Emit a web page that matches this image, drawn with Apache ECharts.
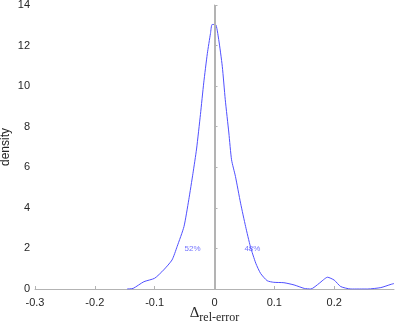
<!DOCTYPE html>
<html>
<head>
<meta charset="utf-8">
<script src="https://cdn.jsdelivr.net/npm/echarts@6/dist/echarts.min.js"></script>
<style>
  html, body { margin: 0; padding: 0; background: #fff; }
  #main { width: 395px; height: 327px; }
</style>
</head>
<body>
<div id="main"></div>
<script>
// density estimate
const xs = [-0.146, -0.136, -0.118, -0.1, -0.085, -0.071, -0.0625, -0.051, -0.043, -0.036, -0.03, -0.0235,
	-0.018, -0.012, -0.0067, -0.004, 0.0017, 0.007, 0.013, 0.018, 0.024, 0.0285, 0.035, 0.0436, 0.052,
	0.06, 0.069, 0.077, 0.088, 0.099, 0.116, 0.133, 0.15, 0.161, 0.175, 0.189, 0.2, 0.211, 0.228, 0.256,
	0.278, 0.295, 0.3];
const ys = [0, 0.03, 0.36, 0.53, 0.94, 1.43, 2.09, 3.08, 4.4, 5.7, 6.9, 8.6,
	10.16, 11.6, 12.6, 13.04, 13.04, 12.3, 10.98, 9.33, 7.69, 6.37, 5.55, 4.23, 3.08,
	2.09, 1.27, 0.77, 0.41, 0.33, 0.31, 0.2, 0.03, 0, 0.28, 0.58, 0.44, 0.12, 0, 0,
	0.07, 0.23, 0.27];

// share annotations
const noteX = [-0.05, 0.05];
const noteY = [2, 2];
const noteText = ['52%', '48%'];

const axisGray = '#b3b3b3';
const textGray = '#262626';
const blue = '#5050ff';

const myChart = echarts.init(document.getElementById('main'), null, { renderer: 'canvas' });

const option = {
	animation: false,
	grid: { left: 35, right: 1, top: 5, bottom: 38, containLabel: false, outerBoundsMode: 'none' },
	xAxis: {
		type: 'value',
		min: -0.3,
		max: 0.3,
		interval: 0.1,
		splitLine: { show: false },
		axisLine: { lineStyle: { color: axisGray, width: 1 } },
		axisTick: { inside: true, length: 3, lineStyle: { color: axisGray } },
		axisLabel: {
			color: textGray, fontSize: 11, fontFamily: 'Liberation Sans', margin: 8,
			showMaxLabel: false,
			formatter: v => String(Math.round(v * 10) / 10)
		},
		name: '{d|Δ}{s|rel-error}',
		nameLocation: 'middle',
		nameGap: 14,
		nameMoveOverlap: false,
		nameTextStyle: {
			rich: {
				d: { fontFamily: 'Liberation Serif', fontSize: 15, color: textGray },
				s: { fontFamily: 'Liberation Serif', fontSize: 12, color: textGray, padding: [9, 0, 0, 0] }
			}
		}
	},
	yAxis: {
		type: 'value',
		min: 0,
		max: 14,
		interval: 2,
		splitLine: { show: false },
		axisLine: { show: true, lineStyle: { color: axisGray, width: 1 } },
		axisTick: { show: true, inside: true, length: 3, lineStyle: { color: axisGray } },
		axisLabel: { color: textGray, fontSize: 11, fontFamily: 'Liberation Sans', margin: 5 },
		name: 'density',
		nameLocation: 'middle',
		nameGap: 23,
		nameMoveOverlap: false,
		nameTextStyle: { color: textGray, fontSize: 12, fontFamily: 'Liberation Sans' }
	},
	series: [
		{
			name: 'density',
			type: 'line',
			data: xs.map((x, i) => [x, ys[i]]),
			symbol: 'none',
			smooth: 0.2,
			lineStyle: { color: blue, width: 1 },
			z: 3,
			markLine: {
				silent: true,
				symbol: 'none',
				label: { show: false },
				lineStyle: { color: axisGray, width: 2, type: 'solid' },
				data: [{ xAxis: 0 }]
			}
		},
		{
			name: 'notes',
			type: 'scatter',
			data: noteX.map((x, i) => [x, noteY[i], noteText[i]]),
			symbolSize: 0,
			label: {
				show: true,
				position: 'right',
				distance: 0,
				formatter: p => p.data[2],
				color: blue,
				fontSize: 8,
				fontFamily: 'Liberation Sans'
			},
			z: 4
		}
	]
};

myChart.setOption(option);
</script>
</body>
</html>
